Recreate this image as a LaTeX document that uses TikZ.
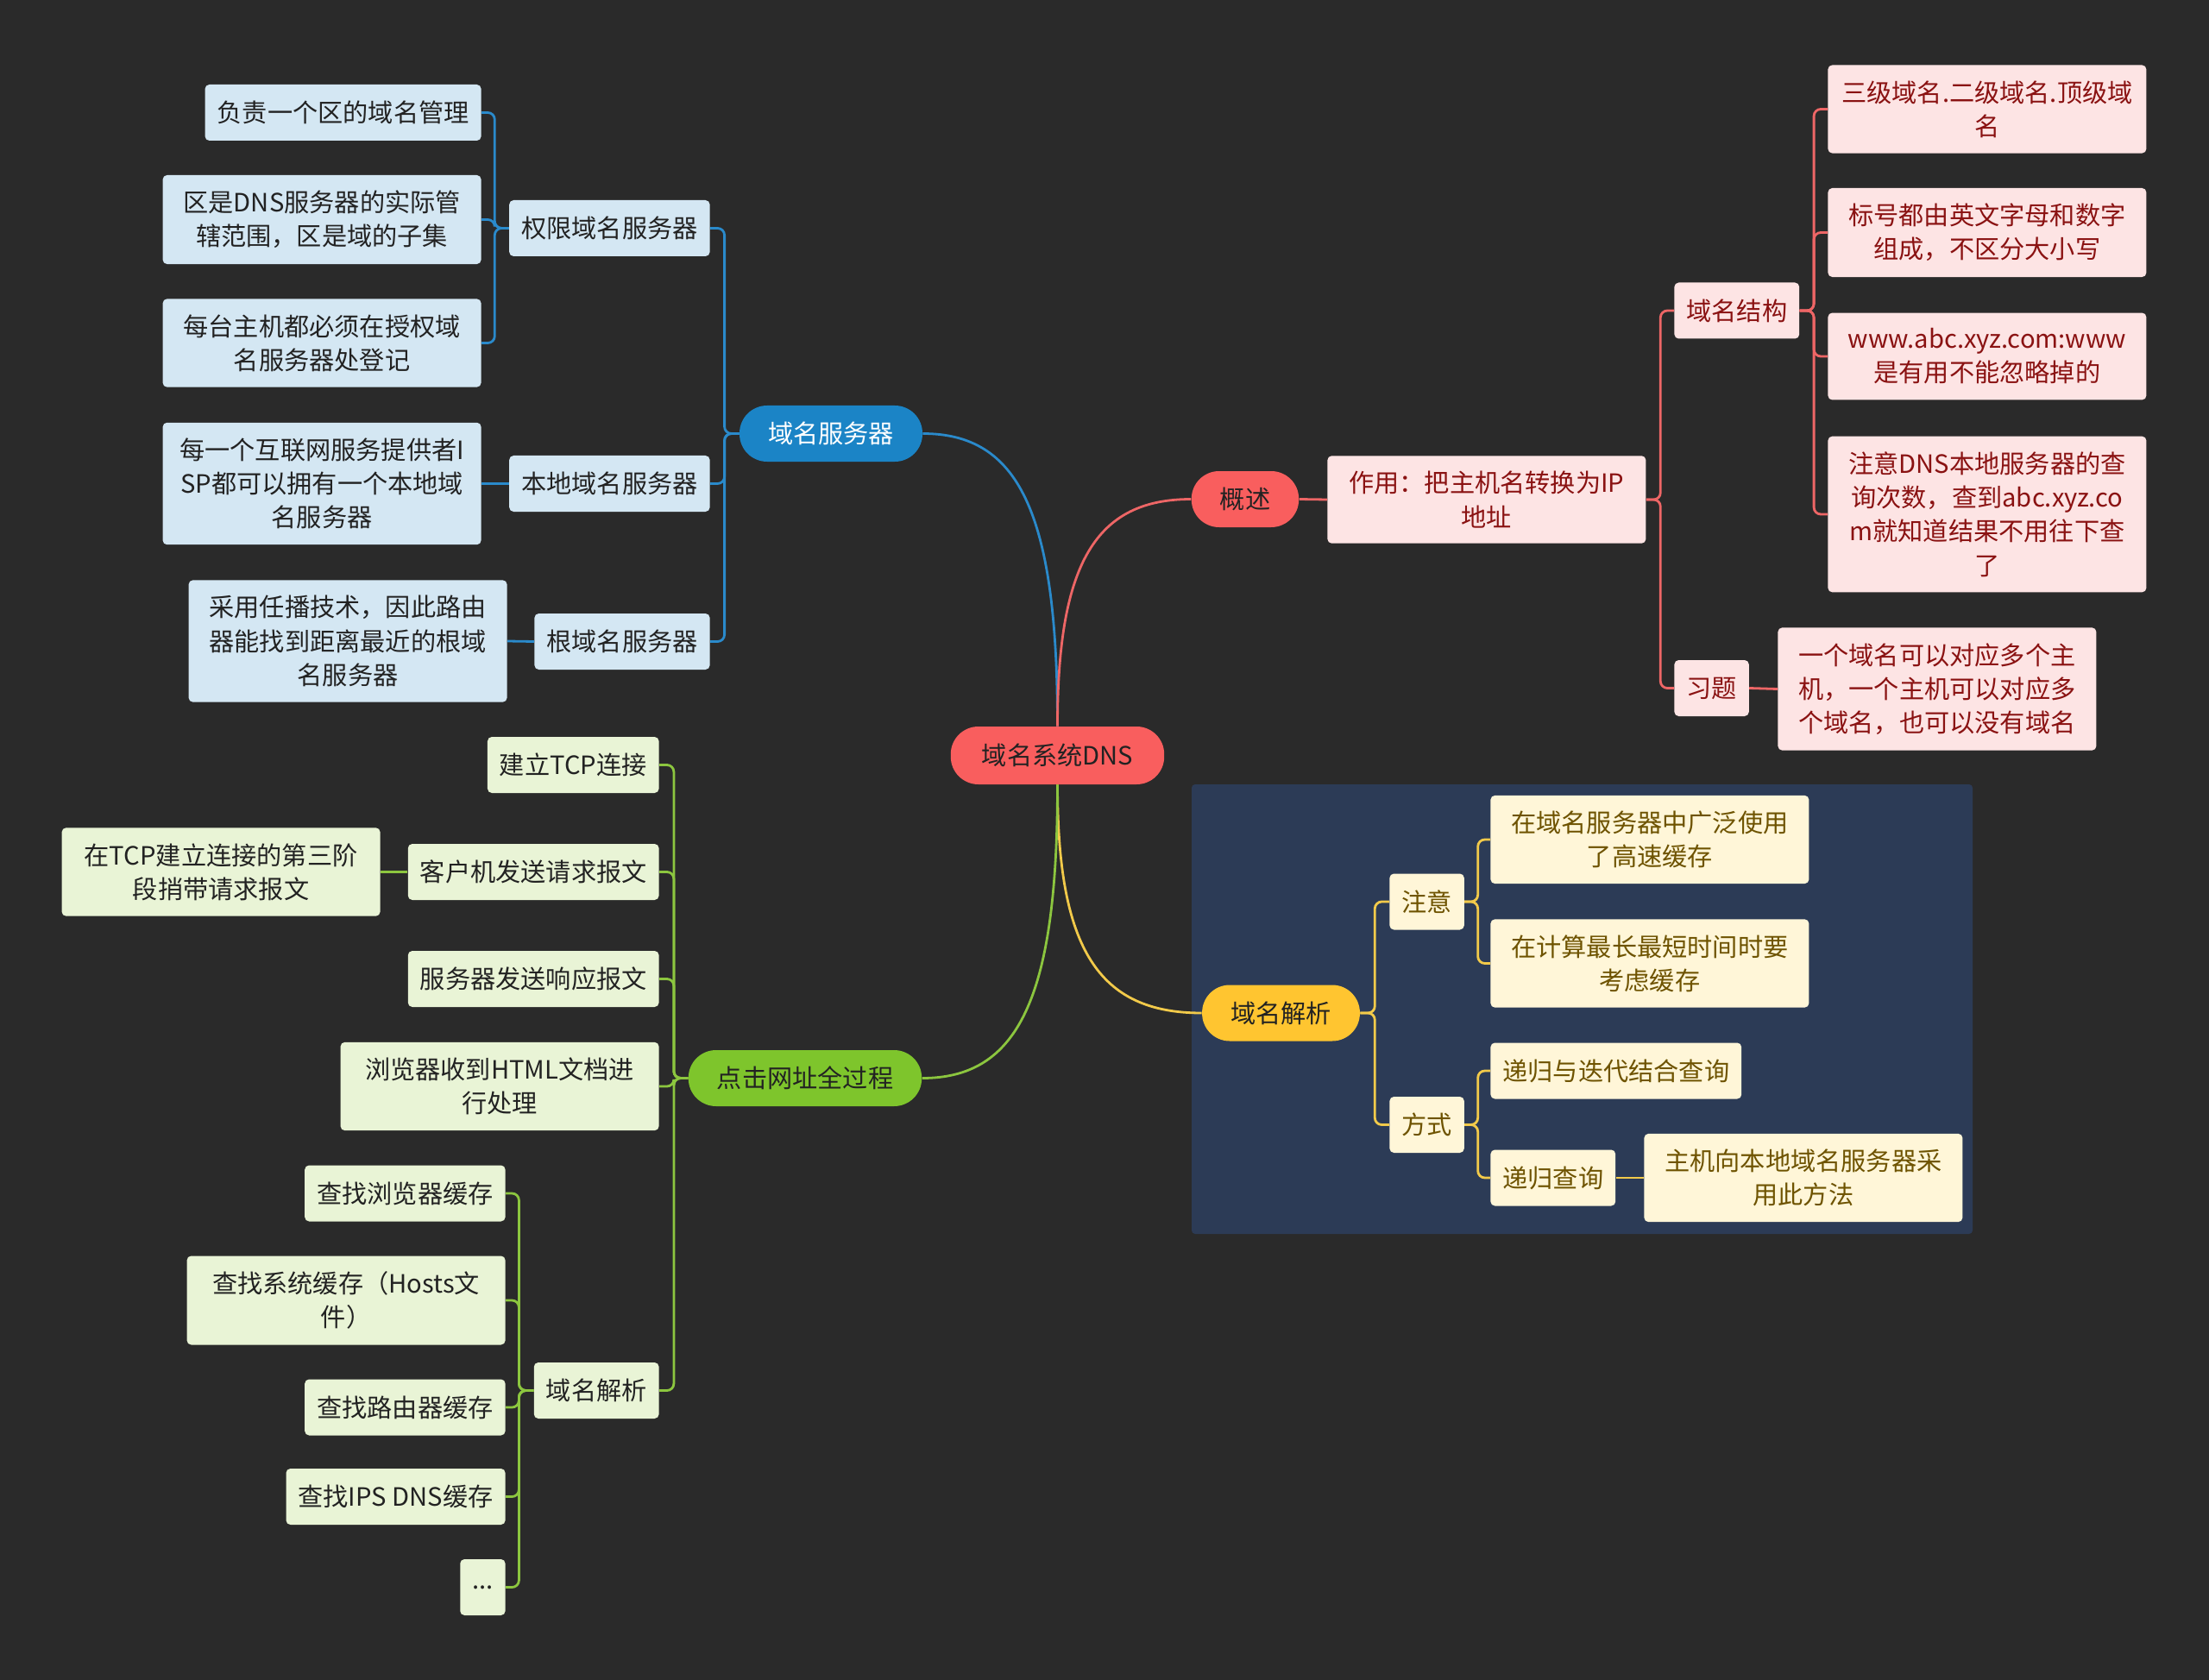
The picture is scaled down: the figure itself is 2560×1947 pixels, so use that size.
\documentclass[tikz,border=0pt]{standalone}
\usepackage{fontspec}
\setmainfont{Noto Sans CJK SC}
\usepackage{tikz}
\usetikzlibrary{calc}
\definecolor{bgcol}{HTML}{2A2A2A}
\definecolor{rcol}{HTML}{F95E5E}
\definecolor{rline}{HTML}{EE6666}
\definecolor{rleaf}{HTML}{FDE4E4}
\definecolor{rtext}{HTML}{8A1212}
\definecolor{bcol}{HTML}{1B84C6}
\definecolor{bline}{HTML}{2A8ACB}
\definecolor{bleaf}{HTML}{D4E7F3}
\definecolor{ycol}{HTML}{FFC530}
\definecolor{yline}{HTML}{F2CA4A}
\definecolor{yleaf}{HTML}{FFF6D8}
\definecolor{ytext}{HTML}{6E5300}
\definecolor{ybox}{HTML}{2C3B56}
\definecolor{gcol}{HTML}{7EC52C}
\definecolor{gline}{HTML}{8CC63F}
\definecolor{gleaf}{HTML}{E9F4D6}
\definecolor{dtext}{HTML}{222222}
\newcommand{\mmfont}{\fontsize{14.6}{19.6}\selectfont}
\tikzset{
  leaf/.style={rectangle,rounded corners=2.5pt,inner xsep=7pt,inner ysep=9pt,minimum height=32.5pt,font=\mmfont,align=center},
  wrapleaf/.style={leaf,text width=170.5pt},
  pill/.style={rectangle,rounded corners=16pt,inner xsep=16.5pt,inner ysep=9pt,minimum height=32.5pt,font=\mmfont},
  conn/.style={line width=1.4pt,rounded corners=4pt},
  bl/.style={leaf,fill=bleaf,text=dtext}, blw/.style={wrapleaf,fill=bleaf,text=dtext},
  rl/.style={leaf,fill=rleaf,text=rtext}, rlw/.style={wrapleaf,fill=rleaf,text=rtext},
  yl/.style={leaf,fill=yleaf,text=ytext}, ylw/.style={wrapleaf,fill=yleaf,text=ytext},
  gl/.style={leaf,fill=gleaf,text=dtext}, glw/.style={wrapleaf,fill=gleaf,text=dtext},
}

\begin{document}
\begin{tikzpicture}[x=0.5pt,y=-0.5pt]
\fill[bgcol] (0,0) rectangle (2560,1947);
\useasboundingbox (0,0) rectangle (2560,1947);
\fill[ybox,rounded corners=2pt] (1381,909) rectangle (2286,1430);
% root
\node[pill,fill=rcol,text=dtext,minimum height=33.5pt,inner xsep=18pt] (root) at (1225.5,875.5) {域名系统DNS};
% domain name servers
\node[pill,fill=bcol,text=white] (bsrv) at (963,502.5) {域名服务器};
\node[bl,anchor=east] (bauth) at (823,264.5) {权限域名服务器};
\node[bl,anchor=east] (bloc) at (823,560.5) {本地域名服务器};
\node[bl,anchor=east] (broot) at (823,743.5) {根域名服务器};
\node[bl,anchor=east] (ba1) at (558,130.5) {负责一个区的域名管理};
\node[blw,anchor=east] (ba2) at (558,254.5) {区是DNS服务器的实际管\\辖范围，区是域的子集};
\node[blw,anchor=east] (ba3) at (558,397.5) {每台主机都必须在授权域\\名服务器处登记};
\node[blw,anchor=east] (bl1) at (558,560.5) {每一个互联网服务提供者I\\SP都可以拥有一个本地域\\名服务器};
\node[blw,anchor=east] (br1) at (588,743) {采用任播技术，因此路由\\器能找到距离最近的根域\\名服务器};
% overview
\node[pill,fill=rcol,text=dtext] (rsum) at (1443,578.5) {概述};
\node[rlw,anchor=west] (ruse) at (1538,579) {作用：把主机名转换为IP\\地址};
\node[rl,anchor=west] (rstr) at (1940,360) {域名结构};
\node[rl,anchor=west] (rex) at (1940,797.5) {习题};
\node[rlw,anchor=west] (rs1) at (2118,126.5) {三级域名.二级域名.顶级域\\名};
\node[rlw,anchor=west] (rs2) at (2118,269.5) {标号都由英文字母和数字\\组成，不区分大小写};
\node[rlw,anchor=west] (rs3) at (2118,413) {www.abc.xyz.com:www\\是有用不能忽略掉的};
\node[rlw,anchor=west] (rs4) at (2118,596) {注意DNS本地服务器的查\\询次数，查到abc.xyz.co\\m就知道结果不用往下查\\了};
\node[rlw,anchor=west] (re1) at (2060,798.5) {一个域名可以对应多个主\\机，一个主机可以对应多\\个域名，也可以没有域名};
% resolution
\node[pill,fill=ycol,text=dtext] (ymain) at (1484.5,1174) {域名解析};
\node[yl,anchor=west] (ynote) at (1610,1045) {注意};
\node[yl,anchor=west] (ymode) at (1610,1303.5) {方式};
\node[ylw,anchor=west] (yn1) at (1727,973) {在域名服务器中广泛使用\\了高速缓存};
\node[ylw,anchor=west] (yn2) at (1727,1116.5) {在计算最长最短时间时要\\考虑缓存};
\node[yl,anchor=west] (ym1) at (1727,1241) {递归与迭代结合查询};
\node[yl,anchor=west] (ym2) at (1727,1365) {递归查询};
\node[ylw,anchor=west] (ym3) at (1905,1365) {主机向本地域名服务器采\\用此方法};
% whole process
\node[pill,fill=gcol,text=dtext] (gmain) at (933,1249.5) {点击网址全过程};
\node[gl,anchor=east] (g1) at (764,886.5) {建立TCP连接};
\node[gl,anchor=east] (g2) at (764,1010.5) {客户机发送请求报文};
\node[glw,anchor=east] (g2a) at (441,1010.5) {在TCP建立连接的第三阶\\段捎带请求报文};
\node[gl,anchor=east] (g3) at (764,1134.5) {服务器发送响应报文};
\node[glw,anchor=east] (g4) at (764,1259) {浏览器收到HTML文档进\\行处理};
\node[gl,anchor=east] (g5) at (764,1611.5) {域名解析};
\node[gl,anchor=east] (g51) at (586,1383) {查找浏览器缓存};
\node[glw,anchor=east] (g52) at (586,1507) {查找系统缓存（Hosts文\\件）};
\node[gl,anchor=east] (g53) at (586,1631) {查找路由器缓存};
\node[gl,anchor=east] (g54) at (586,1734.5) {查找IPS DNS缓存};
\node[gl,anchor=east] (g55) at (586,1839.5) {...};
% main branches
\draw[conn,bline] (root.north) .. controls +(0,-250) and +(110,0) .. (bsrv.east);
\draw[conn,rline] (root.north) .. controls +(0,-190) and +(-110,0) .. (rsum.west);
\draw[conn,yline] (root.south) .. controls +(0,190) and +(-120,0) .. (ymain.west);
\draw[conn,gline] (root.south) .. controls +(0,250) and +(110,0) .. (gmain.east);
% blue
\foreach \c in {bauth,bloc,broot} \draw[conn,bline] (bsrv.west) -- ++(-17,0) |- (\c.east);
\foreach \c in {ba1,ba2,ba3} \draw[conn,bline] (bauth.west) -- ++(-16.5,0) |- (\c.east);
\draw[conn,bline] (bloc.west) -- (bl1.east);
\draw[conn,bline] (broot.west) -- (br1.east);
% red
\draw[conn,rline] (rsum.east) -- (ruse.west);
\foreach \c in {rstr,rex} \draw[conn,rline] (ruse.east) -- ++(16.5,0) |- (\c.west);
\foreach \c in {rs1,rs2,rs3,rs4} \draw[conn,rline] (rstr.east) -- ++(16.5,0) |- (\c.west);
\draw[conn,rline] (rex.east) -- (re1.west);
% yellow
\foreach \c in {ynote,ymode} \draw[conn,yline] (ymain.east) -- ++(17,0) |- (\c.west);
\foreach \c in {yn1,yn2} \draw[conn,yline] (ynote.east) -- ++(15.5,0) |- (\c.west);
\foreach \c in {ym1,ym2} \draw[conn,yline] (ymode.east) -- ++(15.5,0) |- (\c.west);
\draw[conn,yline] (ym2.east) -- (ym3.west);
% green
\foreach \c in {g1,g2,g3,g4,g5} \draw[conn,gline] (gmain.west) -- ++(-16.5,0) |- (\c.east);
\draw[conn,gline] (g2.west) -- (g2a.east);
\foreach \c in {g51,g52,g53,g54,g55} \draw[conn,gline] (g5.west) -- ++(-17,0) |- (\c.east);
\end{tikzpicture}
\end{document}
